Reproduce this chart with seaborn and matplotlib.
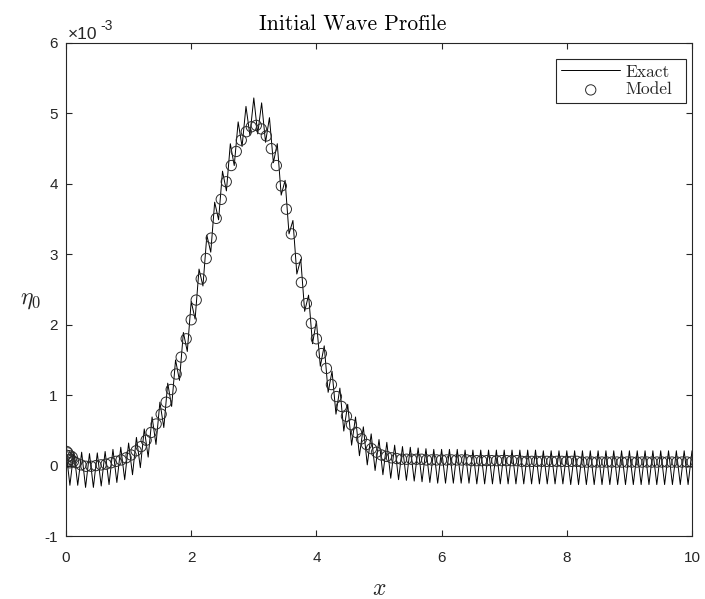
import numpy as np
import pandas as pd
import matplotlib
matplotlib.use("Agg")
import matplotlib.pyplot as plt
import seaborn as sns

# ---------------- data (eta values in units of 1e-3) ----------------
exact_step = 0.0625
# exact solution: local maxima (x = 0, 0.125, ..., 10)
exact_peaks = [
    0.20, 0.20, 0.19, 0.17, 0.18, 0.20, 0.23, 0.26, 0.32,
    0.40, 0.52, 0.69, 0.90, 1.17, 1.50, 1.89, 2.33,
    2.79, 3.27, 3.74, 4.18, 4.57, 4.88, 5.10, 5.22,
    5.15, 4.94, 4.57, 4.05, 3.48, 2.93, 2.42, 2.05,
    1.70, 1.34, 1.10, 0.87, 0.69, 0.55, 0.45, 0.37,
    0.33, 0.29, 0.27, 0.26, 0.25, 0.24, 0.23, 0.23,
    0.23, 0.23, 0.22, 0.22, 0.22, 0.22, 0.22, 0.22,
    0.22, 0.22, 0.22, 0.22, 0.21, 0.21, 0.21, 0.21,
    0.21, 0.21, 0.21, 0.21, 0.21, 0.21, 0.21, 0.21,
    0.21, 0.21, 0.21, 0.21, 0.21, 0.21, 0.21, 0.21,
]
# exact solution: local minima (x = 0.0625, 0.1875, ..., 9.9375)
exact_troughs = [
    -0.28, -0.28, -0.31, -0.31, -0.29, -0.27, -0.24, -0.20,
    -0.13, -0.03, 0.12, 0.30, 0.54, 0.84, 1.21, 1.62,
    2.08, 2.55, 3.03, 3.49, 3.90, 4.26, 4.53, 4.69,
    4.71, 4.59, 4.30, 3.84, 3.29, 2.72, 2.19, 1.73,
    1.41, 1.04, 0.73, 0.49, 0.29, 0.14, 0.01, -0.07,
    -0.13, -0.18, -0.20, -0.21, -0.22, -0.23, -0.24, -0.25,
    -0.25, -0.25, -0.25, -0.25, -0.26, -0.26, -0.26, -0.26,
    -0.26, -0.26, -0.26, -0.26, -0.26, -0.26, -0.26, -0.26,
    -0.27, -0.27, -0.27, -0.27, -0.27, -0.27, -0.27, -0.27,
    -0.27, -0.27, -0.27, -0.27, -0.27, -0.27, -0.27, -0.27,
]

# model on a regular grid x = 0, 0.08, ..., 10
model_step = 0.08
model_grid_y = [
    0.15, 0.09, 0.04, 0.01, -0.01, -0.01, 0.00, 0.01, 0.02, 0.04,
    0.06, 0.08, 0.11, 0.15, 0.21, 0.27, 0.36, 0.47, 0.59, 0.73,
    0.90, 1.08, 1.30, 1.54, 1.80, 2.07, 2.35, 2.65, 2.94, 3.23,
    3.51, 3.78, 4.03, 4.26, 4.46, 4.62, 4.74, 4.81, 4.83, 4.78,
    4.68, 4.50, 4.26, 3.97, 3.64, 3.29, 2.94, 2.60, 2.30, 2.02,
    1.80, 1.59, 1.38, 1.15, 0.98, 0.84, 0.70, 0.58, 0.47, 0.38,
    0.30, 0.24, 0.19, 0.15, 0.13, 0.11, 0.10, 0.09,
    0.09, 0.09, 0.09, 0.09, 0.08, 0.08, 0.08, 0.08, 0.08, 0.08,
    0.08, 0.08, 0.08, 0.07, 0.07, 0.07, 0.07, 0.07, 0.07, 0.07,
    0.07, 0.07, 0.07, 0.06, 0.06, 0.06, 0.06, 0.06, 0.06, 0.06,
    0.06, 0.06, 0.06, 0.06, 0.06, 0.05, 0.05, 0.05, 0.05, 0.05,
    0.05, 0.05, 0.05, 0.05, 0.05, 0.05, 0.05, 0.05, 0.05, 0.05,
    0.05, 0.05, 0.05, 0.05, 0.05, 0.05, 0.05, 0.05,
]
# extra model points clustered near the left boundary
model_near0_x = [0.01, 0.02, 0.03, 0.04, 0.05, 0.06, 0.10, 0.12]
model_near0_y = [0.20, 0.12, 0.18, 0.08, 0.14, 0.04, 0.12, 0.06]

x_ticks = [0, 2, 4, 6, 8, 10]
y_ticks = [-1, 0, 1, 2, 3, 4, 5, 6]

# ---------------- assemble frames ----------------
exact_y = np.empty(len(exact_peaks) + len(exact_troughs))
exact_y[0::2] = exact_peaks
exact_y[1::2] = exact_troughs
exact_x = np.arange(len(exact_y)) * exact_step
df_exact = pd.DataFrame({"x": exact_x, "eta": exact_y})

model_x = np.concatenate([model_near0_x, np.arange(len(model_grid_y)) * model_step])
model_y = np.concatenate([model_near0_y, model_grid_y])
df_model = pd.DataFrame({"x": model_x, "eta": model_y})

# ---------------- style ----------------
sns.set_theme(style="white")
plt.rcParams["font.family"] = ["Liberation Sans", "DejaVu Sans"]
plt.rcParams["mathtext.fontset"] = "cm"
AX_COL = "#262626"

fig = plt.figure(figsize=(7.05, 5.99), dpi=100)
AX_L, AX_R, AX_T, AX_B = 66, 692, 43, 536
ax = fig.add_axes([AX_L / 705, 1 - AX_B / 599, (AX_R - AX_L) / 705, (AX_B - AX_T) / 599])
AW, AH = AX_R - AX_L, AX_B - AX_T

sns.lineplot(data=df_exact, x="x", y="eta", ax=ax, color="black", linewidth=0.7,
             sort=False, estimator=None, label="Exact")
sns.scatterplot(data=df_model, x="x", y="eta", ax=ax, marker="o", s=55,
                facecolor="none", edgecolor="#2a2a2a", linewidth=0.7,
                label="Model", zorder=3)

ax.set_xlim(0, 10)
ax.set_ylim(-1, 6)
ax.set_xticks(x_ticks)
ax.set_yticks(y_ticks)
ax.set_xticklabels([str(t) for t in x_ticks])
ax.set_yticklabels([str(t) for t in y_ticks])

for sp in ax.spines.values():
    sp.set_visible(True)
    sp.set_color(AX_COL)
    sp.set_linewidth(0.8)

ax.tick_params(axis="both", which="both", direction="in", length=4, width=0.8,
               color=AX_COL, labelcolor=AX_COL, labelsize=11,
               top=True, right=True, bottom=True, left=True)
ax.tick_params(axis="x", pad=11)
ax.tick_params(axis="y", pad=6)

ax.set_title("Initial Wave Profile", fontfamily="cmr10", fontsize=15.5, pad=9,
             color="black", x=(353 - AX_L) / AW)
ax.set_xlabel(r"$x$", fontsize=17, labelpad=9, color=AX_COL)
ax.set_ylabel(r"$\eta_0$", fontsize=17, color=AX_COL, rotation=0,
              ha="center", va="center")
ax.yaxis.set_label_coords((31 - AX_L) / AW, 1 - (300 - AX_T) / AH)

# exponent label (x10^-3)
ax.annotate("\u00d710", xy=(0, 1), xycoords="axes fraction", xytext=(1.5, 3),
            textcoords="offset points", ha="left", va="baseline",
            fontsize=12.5, color=AX_COL)
ax.annotate("-3", xy=(0, 1), xycoords="axes fraction", xytext=(25, 9.5),
            textcoords="offset points", ha="left", va="baseline",
            fontsize=10, color=AX_COL)

leg_w, leg_h = 130 / AW, 47 / AH
leg_x0 = (556 - AX_L) / AW
leg_y1 = 1 - (59 - AX_T) / AH
leg = ax.legend(loc="upper right", bbox_to_anchor=(leg_x0, leg_y1 - leg_h, leg_w, leg_h),
                mode="expand", borderaxespad=0, frameon=True, fancybox=False,
                edgecolor=AX_COL, framealpha=1, prop={"family": "cmr10", "size": 12.5},
                handlelength=3.4, handletextpad=0.3, labelspacing=0.15,
                borderpad=0.3)
leg.get_frame().set_linewidth(0.8)

fig.savefig("out.png", dpi=100, facecolor="white")
